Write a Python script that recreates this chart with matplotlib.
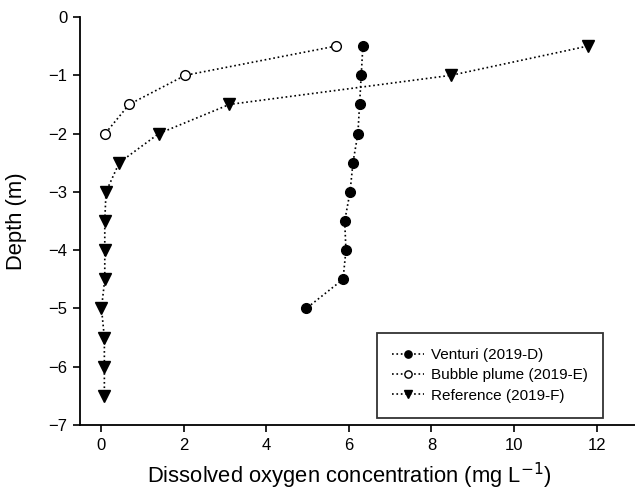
import matplotlib
matplotlib.use("Agg")
import matplotlib.pyplot as plt

plt.rcParams['font.family'] = ['Liberation Sans', 'DejaVu Sans']

venturi_depth = [-0.5, -1.0, -1.5, -2.0, -2.5, -3.0, -3.5, -4.0, -4.5, -5.0]
venturi_do = [6.34, 6.30, 6.26, 6.22, 6.10, 6.03, 5.90, 5.93, 5.86, 4.97]

bubble_depth = [-0.5, -1.0, -1.5, -2.0]
bubble_do = [5.68, 2.04, 0.68, 0.10]

ref_depth = [-0.5, -1.0, -1.5, -2.0, -2.5, -3.0, -3.5, -4.0, -4.5, -5.0, -5.5, -6.0, -6.5]
ref_do = [11.78, 8.48, 3.11, 1.40, 0.44, 0.12, 0.09, 0.09, 0.09, 0.01, 0.08, 0.08, 0.08]

labels = ['Venturi (2019-D)', 'Bubble plume (2019-E)', 'Reference (2019-F)']
x_ticks = [0, 2, 4, 6, 8, 10, 12]
y_ticks = [0, -1, -2, -3, -4, -5, -6, -7]

fig = plt.figure(figsize=(6.35, 4.91), dpi=100)
ax = fig.add_axes([80/635, 1-425/491, 1-80/635, (425-17)/491])

ax.plot(venturi_do, venturi_depth, linestyle=':', color='black', linewidth=1.2,
        marker='o', markersize=7, markerfacecolor='black', markeredgecolor='black',
        label=labels[0])
ax.plot(bubble_do, bubble_depth, linestyle=':', color='black', linewidth=1.2,
        marker='o', markersize=7, markerfacecolor='white', markeredgecolor='black',
        markeredgewidth=1.0, label=labels[1])
ax.plot(ref_do, ref_depth, linestyle=':', color='black', linewidth=1.2,
        marker='v', markersize=8, markerfacecolor='black', markeredgecolor='black',
        label=labels[2])

ax.set_xlim(-0.51, 12.93)
ax.set_ylim(-7, 0)
ax.set_xticks(x_ticks)
ax.set_yticks(y_ticks)
ax.set_yticklabels(['0' if v == 0 else '\u2212%d' % abs(v) for v in y_ticks])

for s in ['top', 'right']:
    ax.spines[s].set_visible(False)
for s in ['left', 'bottom']:
    ax.spines[s].set_linewidth(1.3)
ax.tick_params(direction='out', length=5, width=1.2, labelsize=12, pad=4)

ax.set_xlabel('Dissolved oxygen concentration (mg L$^{\u22121}$)', fontsize=15.8)
ax.set_ylabel('Depth (m)', fontsize=15.8)
ax.xaxis.set_label_coords((349-80)/555, (425-461)/408)
ax.yaxis.set_label_coords((27-80)/555, 0.5)

leg = ax.legend(loc='lower right', bbox_to_anchor=((603-80)/555, (425-418)/408),
                frameon=True, fancybox=False, edgecolor='black', fontsize=11,
                handlelength=2.1, handletextpad=0.45, borderpad=1.0, labelspacing=0.42,
                borderaxespad=0.0, markerscale=0.75)
leg.get_frame().set_linewidth(1.3)

fig.savefig('out.png', dpi=100)
